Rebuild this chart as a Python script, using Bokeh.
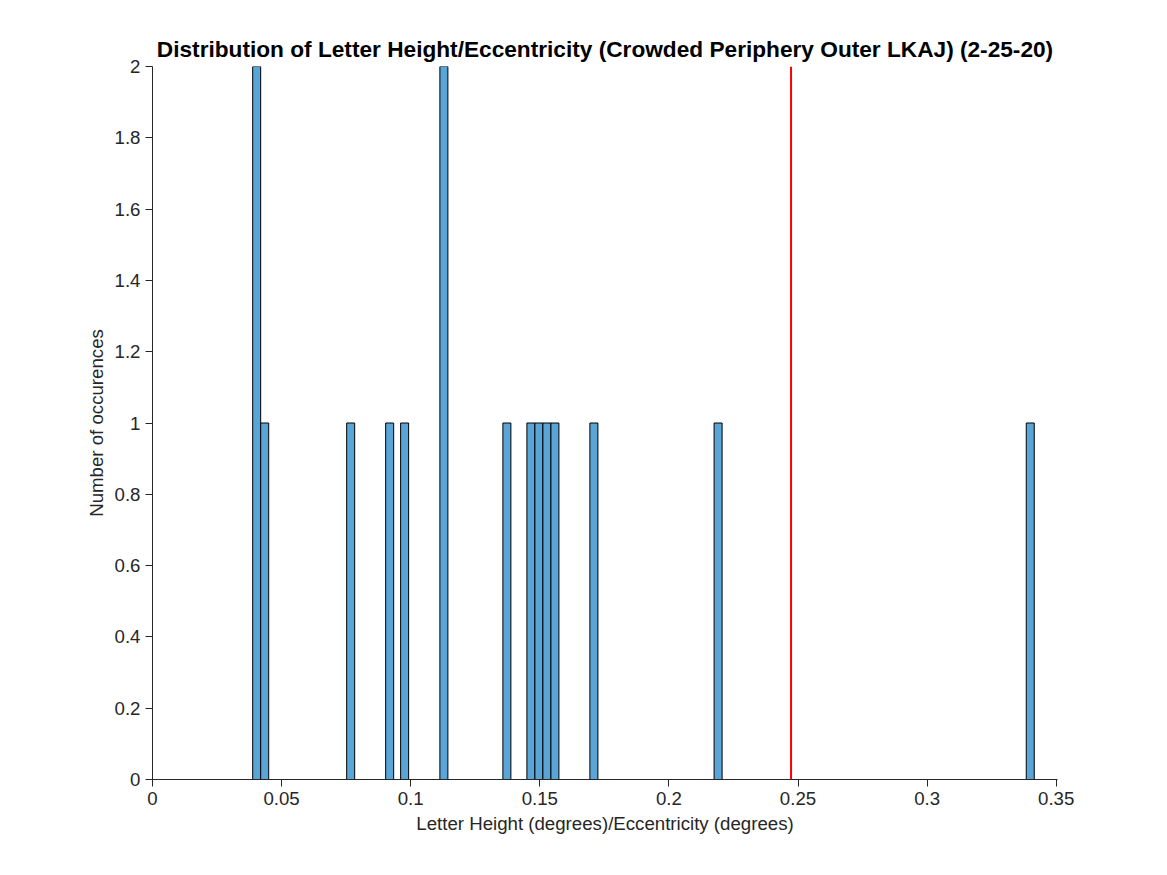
from bokeh.plotting import figure
from bokeh.models import FixedTicker, Range1d, Span
from bokeh.embed import file_html
from bokeh.resources import INLINE

# histogram bins (left edge, count)
BIN_W = 0.0031
bin_left = [0.0388, 0.0419, 0.0752, 0.0903, 0.0961, 0.1113, 0.1357,
            0.1450, 0.1481, 0.1512, 0.1543, 0.1694, 0.2175, 0.3384]
counts = [2, 1, 1, 1, 1, 2, 1, 1, 1, 1, 1, 1, 1, 1]
threshold = 0.2473

x_ticks = [0, 0.05, 0.1, 0.15, 0.2, 0.25, 0.3, 0.35]
y_ticks = [0, 0.2, 0.4, 0.6, 0.8, 1, 1.2, 1.4, 1.6, 1.8, 2]

FONT = "Liberation Sans"

p = figure(width=1150, height=860, output_backend="svg", toolbar_location=None,
           x_range=Range1d(0, 0.3505), y_range=Range1d(0, 2),
           min_border_left=152, min_border_right=93,
           min_border_top=66, min_border_bottom=81,
           title="Distribution of Letter Height/Eccentricity (Crowded Periphery Outer LKAJ) (2-25-20)")
p.title.text_font = FONT
p.title.text_font_size = "17pt"
p.title.text_font_style = "bold"
p.title.text_color = "black"
p.title.align = "center"
p.title.offset = 0

p.quad(left=bin_left, right=[b + BIN_W for b in bin_left], bottom=0, top=counts,
       fill_color="#5aa5d8", line_color="black", line_width=1)
p.add_layout(Span(location=threshold, dimension="height", line_color="#ff0000", line_width=2))

p.grid.visible = False
p.outline_line_color = None
p.background_fill_color = "white"
p.border_fill_color = "white"

p.xaxis.ticker = FixedTicker(ticks=x_ticks)
p.yaxis.ticker = FixedTicker(ticks=y_ticks)
p.xaxis.major_label_overrides = {t: ("%g" % t) for t in x_ticks}
p.yaxis.major_label_overrides = {t: ("%g" % t) for t in y_ticks}
p.xaxis.axis_label = "Letter Height (degrees)/Eccentricity (degrees)"
p.yaxis.axis_label = "Number of occurences"
for ax in (p.xaxis, p.yaxis):
    ax.axis_label_text_font = FONT
    ax.axis_label_text_font_size = "14pt"
    ax.axis_label_text_font_style = "normal"
    ax.major_label_text_font = FONT
    ax.major_label_text_font_size = "14pt"
    ax.major_tick_in = 0
    ax.major_tick_out = 7
    ax.minor_tick_out = 0
    ax.minor_tick_in = 0
    ax.axis_line_color = "#262626"
    ax.major_tick_line_color = "#262626"
    ax.major_label_text_color = "#262626"
    ax.axis_label_text_color = "#262626"

open("out.html", "w").write(file_html(p, INLINE))
